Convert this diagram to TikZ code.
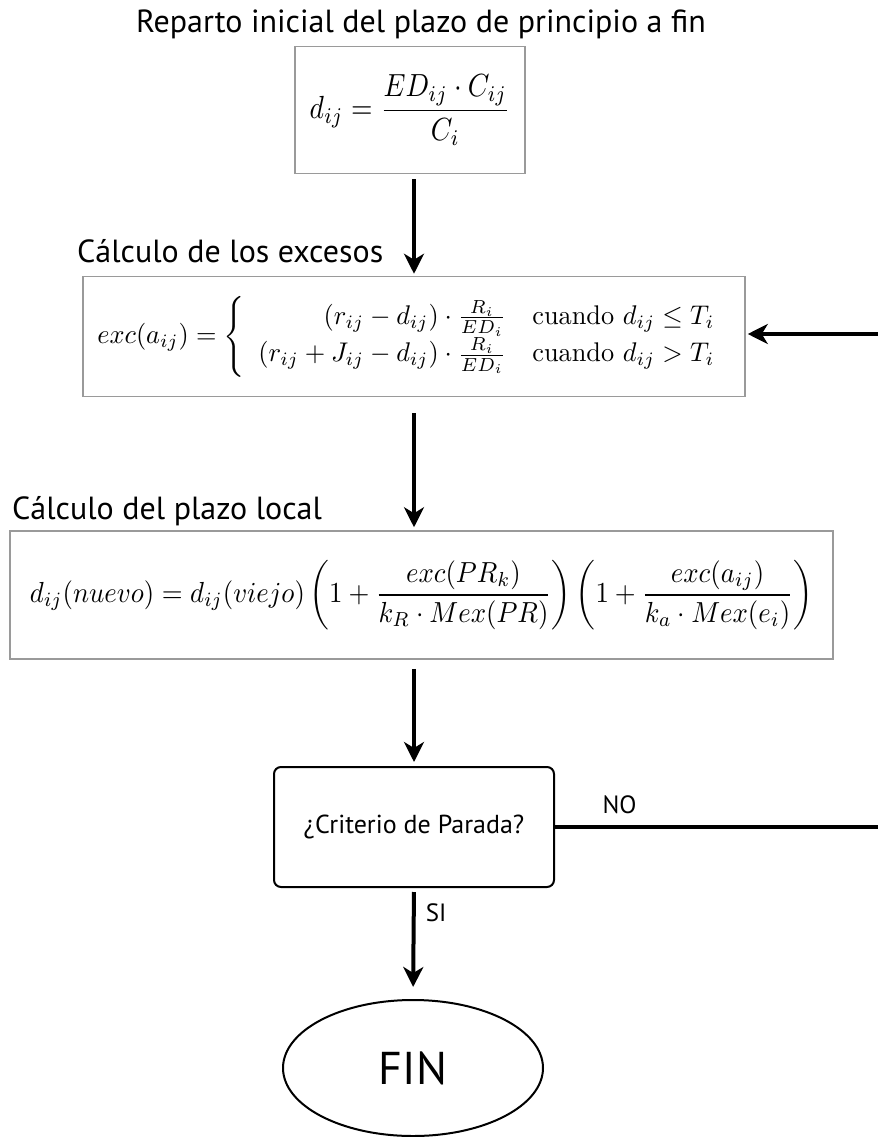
\documentclass[tikz,border=0pt]{standalone}
\usepackage{fontspec}
\usepackage{amsmath}
\newfontfamily\labelfont{PT Sans}
\usetikzlibrary{arrows.meta,shapes.geometric}

\tikzset{
  mathbox/.style={draw=boxgray, line width=1.5pt, inner sep=0pt},
  decision/.style={draw=black, line width=2pt, rounded corners=7pt, inner sep=0pt,
    font=\labelfont\fontsize{26}{31}\selectfont},
  terminal/.style={ellipse, draw=black, line width=2pt, inner sep=0pt,
    font=\labelfont\fontsize{46}{52}\selectfont},
  heading/.style={font=\labelfont\fontsize{32}{38}\selectfont, inner sep=0pt},
  branchlabel/.style={font=\labelfont\fontsize{25}{30}\selectfont, inner sep=0pt},
  flow/.style={line width=4pt, -{Stealth[length=20pt,width=20pt,inset=6pt]}},
  plainflow/.style={line width=4pt},
}
\definecolor{boxgray}{HTML}{9A9A9A}

\begin{document}
\begin{tikzpicture}[x=1pt,y=-1pt]
\useasboundingbox (0,0) rectangle (878,1137);

% headings
\node[heading, anchor=base] (title) at (421,33) {Reparto inicial del plazo de principio a fin};
\node[heading, anchor=base west] (hexc) at (77,262) {Cálculo de los excesos};
\node[heading, anchor=base west] (hloc) at (12,519) {Cálculo del plazo local};

% initial split
\node[mathbox, minimum width=230pt, minimum height=127pt] (init) at (410,110)
  {\scalebox{2.76}[3.2]{$\displaystyle d_{ij}=\frac{ED_{ij}\cdot C_{ij}}{C_i}$}\hspace{4pt}};

% excesses
\node[mathbox, minimum width=662pt, minimum height=120pt] (exc) at (414,336.5)
  {\renewcommand{\arraystretch}{1.12}%
   \scalebox{2.63}[2.7]{$exc(a_{ij})=\left\{\begin{array}{rl}
     (r_{ij}-d_{ij})\cdot\frac{R_i}{ED_i} & \mathrm{cuando}\ d_{ij}\le T_i\\
     (r_{ij}+J_{ij}-d_{ij})\cdot\frac{R_i}{ED_i} & \mathrm{cuando}\ d_{ij}>T_i
   \end{array}\right.$}\hspace{16pt}};

% local deadline
\node[mathbox, minimum width=823pt, minimum height=128pt] (loc) at (421.5,595)
  {\scalebox{2.68}[2.9]{$\displaystyle d_{ij}(nuevo)=d_{ij}(viejo)\left(1+\frac{exc(PR_k)}{k_R\cdot Mex(PR)}\right)\left(1+\frac{exc(a_{ij})}{k_a\cdot Mex(e_i)}\right)$}\hspace{10pt}};

% stop test and end
\node[decision, minimum width=280pt, minimum height=120pt] (stop) at (414,827) {¿Criterio de Parada?};
\node[terminal, minimum width=260pt, minimum height=136pt] (fin) at (413,1068) {FIN};

% loop-back points at the right edge
\coordinate (noEnd) at (878,827);
\coordinate (backStart) at (878,334);

% connectors (all on the vertical through the stop test)
\draw[flow, shorten <=5pt, shorten >=2pt] (init.south -| stop.north) -- (exc.north -| stop.north);
\draw[flow, shorten <=16pt, shorten >=3pt] (exc.south -| stop.north) -- (loc.north -| stop.north);
\draw[flow, shorten <=9pt, shorten >=4pt] (loc.south -| stop.north) -- (stop.north);
\draw[flow, shorten <=4pt, shorten >=12pt] (stop.south) -- node[branchlabel, pos=0.22, right=10pt] (si) {SI} (fin.north);
\draw[plainflow] (stop.east) -- node[branchlabel, pos=0.2, above=11pt] (no) {NO} (noEnd);
\draw[flow, shorten >=2pt] (backStart) -- (backStart -| exc.east);
\end{tikzpicture}
\end{document}
